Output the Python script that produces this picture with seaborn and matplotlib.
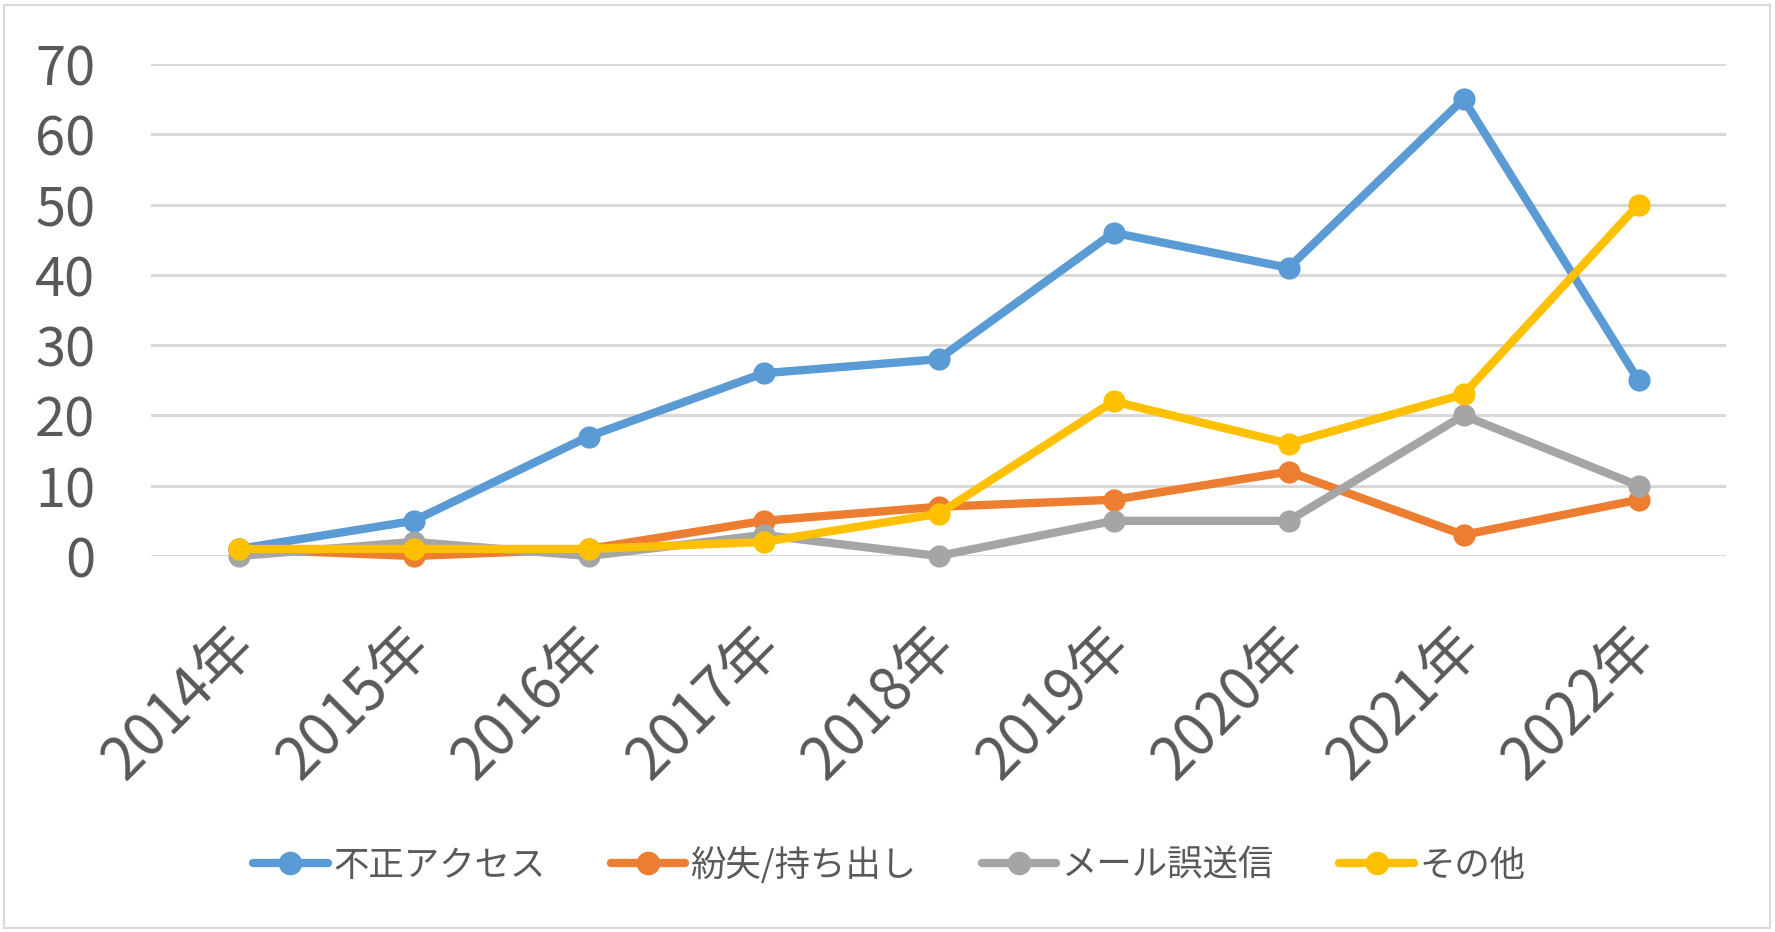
"""Line chart: incidents by cause, 2014-2022"""
import matplotlib
matplotlib.use('Agg')
import matplotlib.pyplot as plt
from matplotlib.patches import Rectangle
import matplotlib.transforms as mtransforms
import pandas as pd
import seaborn as sns

years = ['2014年', '2015年', '2016年', '2017年', '2018年',
         '2019年', '2020年', '2021年', '2022年']
unauthorized = [1, 5, 17, 26, 28, 46, 41, 65, 25]
lost = [1, 0, 1, 5, 7, 8, 12, 3, 8]
misdirected = [0, 2, 0, 3, 0, 5, 5, 20, 10]
other = [1, 1, 1, 2, 6, 22, 16, 23, 50]
series_names = ['不正アクセス', '紛失/持ち出し', 'メール誤送信', 'その他']
colors = ['#5B9BD5', '#ED7D31', '#A5A5A5', '#FFC000']

TEXT = '#595959'

df = pd.DataFrame({
    'year': years * 4,
    'count': unauthorized + lost + misdirected + other,
    'cause': sum([[n] * len(years) for n in series_names], []),
})

sns.set_style('white')
plt.rcParams['font.family'] = ['Noto Sans CJK JP', 'DejaVu Sans']

fig = plt.figure(figsize=(17.75, 9.32), dpi=100)
ax = fig.add_axes([151 / 1775, 1 - 556 / 932, (1726 - 151) / 1775, (556 - 64) / 932])

sns.lineplot(data=df, x='year', y='count', hue='cause', hue_order=series_names,
             palette=colors, marker='o', markersize=16, markeredgewidth=0,
             linewidth=6, sort=False, ax=ax)
for line in ax.lines:
    line.set_clip_on(False)
    line.set_solid_capstyle('round')

ax.set_xlim(-0.5, len(years) - 0.5)
ax.set_ylim(0, 70)
ax.set_yticks(range(0, 71, 10))
ax.yaxis.grid(True, color='#D9D9D9', linewidth=2.2)
ax.set_axisbelow(True)
for s in ax.spines.values():
    s.set_visible(False)
ax.set_xlabel('')
ax.set_ylabel('')

ax.tick_params(axis='y', length=0, pad=40, labelsize=39, labelcolor=TEXT)
ax.tick_params(axis='x', length=0, pad=58, labelsize=42, labelcolor=TEXT)
plt.setp(ax.get_xticklabels(), rotation=45, ha='right', va='center',
         rotation_mode='anchor')
shift = mtransforms.ScaledTranslation(8 / 100, 0, fig.dpi_scale_trans)
for lbl in ax.get_xticklabels():
    lbl.set_transform(lbl.get_transform() + shift)

ax.get_legend().remove()
handles, labels = ax.get_legend_handles_labels()
leg = fig.legend(handles, labels, loc='center', bbox_to_anchor=(0.501, 1 - 865 / 932),
                 ncol=4, frameon=False, fontsize=25.5, handlelength=2.1,
                 handletextpad=0.15, columnspacing=1.85, labelcolor=TEXT)
for h in leg.legend_handles:
    h.set_linewidth(6)
    h.set_markersize(17)
    h.set_solid_capstyle('round')

fig.patches.append(Rectangle((4 / 1775, 4 / 932), 1 - 9 / 1775, 1 - 9 / 932,
                             transform=fig.transFigure, fill=False,
                             edgecolor='#D9D9D9', linewidth=1.5))

plt.savefig('out.png', dpi=100)
